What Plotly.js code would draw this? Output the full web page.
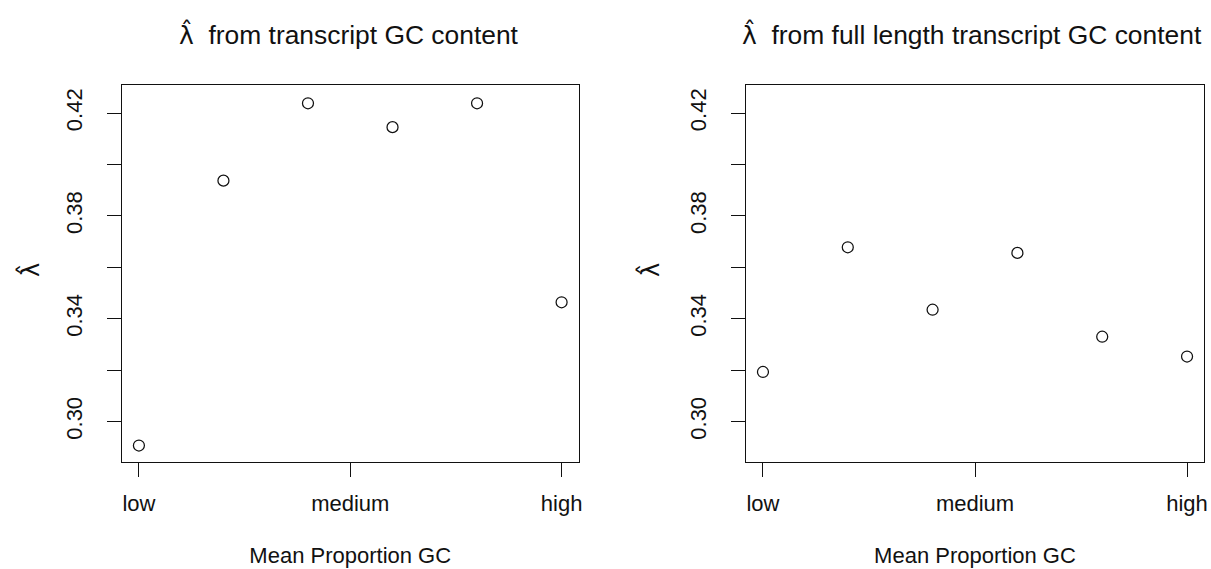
<!DOCTYPE html>
<html>
<head>
<meta charset="utf-8">
<script src="https://cdn.plot.ly/plotly-3.0.1.min.js"></script>
<style>
  html, body { margin: 0; padding: 0; background: #fff; }
  #chart { width: 1211px; height: 569px; }
</style>
</head>
<body>
<div id="chart"></div>
<script>
// ---- data ----
var gcGroup = [1, 2, 3, 4, 5, 6];
var lambdaTranscriptGC = [0.2907, 0.3937, 0.4238, 0.4145, 0.4238, 0.3464];
var lambdaFullLengthGC = [0.3193, 0.3678, 0.3435, 0.3656, 0.3330, 0.3253];
var xTickValues = [1, 3.5, 6];
var xTickLabels = ['low', 'medium', 'high'];
var yTickValues = [0.30, 0.32, 0.34, 0.36, 0.38, 0.40, 0.42];
var yTickLabels = ['0.30', '', '0.34', '', '0.38', '', '0.42'];
var lambdaHat = 'λ\u0302';
var titleLeftText = ' from transcript GC content';
var titleRightText = ' from full length transcript GC content';
var xLabel = 'Mean Proportion GC';

var FONT = '"Liberation Sans", Arial, Helvetica, sans-serif';
var W = 1211, H = 569;
function px(x) { return x / W; }
function py(y) { return (H - y) / H; }

function hatSpan(size) {
  return '<span style="font-family:DejaVu Sans;font-size:' + size + 'px">' + lambdaHat + '</span>';
}

var markerStyle = { symbol: 'circle-open', size: 11, color: '#111', line: { width: 1.25, color: '#111' } };

var traces = [
  { x: gcGroup, y: lambdaTranscriptGC, type: 'scatter', mode: 'markers', marker: markerStyle, xaxis: 'x', yaxis: 'y', showlegend: false, hoverinfo: 'x+y' },
  { x: gcGroup, y: lambdaFullLengthGC, type: 'scatter', mode: 'markers', marker: markerStyle, xaxis: 'x2', yaxis: 'y2', showlegend: false, hoverinfo: 'x+y' }
];

function xAxis(domain, anchor) {
  return {
    domain: domain, anchor: anchor, range: [0.8, 6.2],
    tickmode: 'array', tickvals: xTickValues, ticktext: xTickLabels,
    ticks: 'outside', ticklen: 14, tickwidth: 1, tickcolor: '#111',
    showline: true, mirror: true, linecolor: '#111', linewidth: 1,
    showgrid: false, zeroline: false, ticklabelstandoff: 8,
    tickfont: { family: FONT, size: 22, color: '#111' },
    title: { text: xLabel, font: { family: FONT, size: 22, color: '#111' }, standoff: 32 }
  };
}
function yAxis(domain, anchor) {
  return {
    domain: domain, anchor: anchor, range: [0.2844, 0.4309],
    tickmode: 'array', tickvals: yTickValues, ticktext: yTickLabels,
    ticks: 'outside', ticklen: 14, tickwidth: 1, tickcolor: '#111',
    tickangle: -90, ticklabelstandoff: 16,
    showline: true, mirror: true, linecolor: '#111', linewidth: 1,
    showgrid: false, zeroline: false,
    tickfont: { family: FONT, size: 22, color: '#111' }
  };
}

function txt(text, x, y, size, opts) {
  var a = { text: text, xref: 'paper', yref: 'paper', x: px(x), y: py(y), xanchor: 'center', yanchor: 'middle',
            showarrow: false, font: { family: FONT, size: size, color: '#111' } };
  for (var k in (opts || {})) a[k] = opts[k];
  return a;
}

var yDom = [py(461.7), py(85)];
var layout = {
  width: W, height: H,
  margin: { l: 0, r: 0, t: 0, b: 0 },
  paper_bgcolor: '#fff', plot_bgcolor: '#fff',
  font: { family: FONT, color: '#111' },
  xaxis: xAxis([px(122), px(578.5)], 'y'),
  yaxis: yAxis(yDom, 'x'),
  xaxis2: xAxis([px(746), px(1204)], 'y2'),
  yaxis2: yAxis(yDom, 'x2'),
  annotations: [
    txt(hatSpan(25) + '\u00a0' + titleLeftText, 177, 34, 26.4, { xanchor: 'left' }),
    txt(hatSpan(25) + '\u00a0' + titleRightText, 740, 34, 26.4, { xanchor: 'left' }),
    txt(hatSpan(24), 30, 270, 22, { textangle: -90 }),
    txt(hatSpan(24), 650, 270, 22, { textangle: -90 })
  ]
};

Plotly.newPlot('chart', traces, layout, { displayModeBar: false, staticPlot: true });
</script>
</body>
</html>
